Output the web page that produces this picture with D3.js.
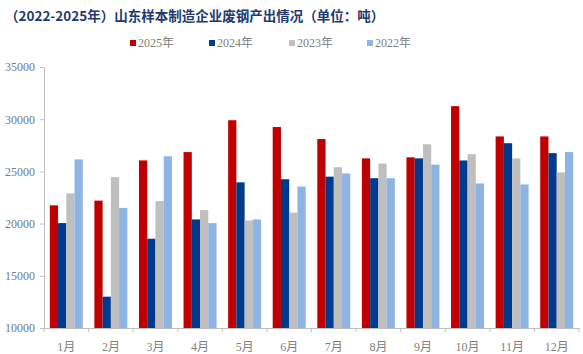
<!DOCTYPE html>
<html>
<head>
<meta charset="utf-8">
<script src="https://cdn.jsdelivr.net/npm/d3@7/dist/d3.min.js"></script>
<style>
  body { margin: 0; background: #fff; }
  svg { display: block; }
</style>
</head>
<body>
<script>
const months = ['1月', '2月', '3月', '4月', '5月', '6月', '7月', '8月', '9月', '10月', '11月', '12月'];
const seriesNames = ['2025年', '2024年', '2023年', '2022年'];
const colors = ['#C00000', '#003A8C', '#BFBFBF', '#8EB4E3'];
const y2025 = [21750, 22200, 26050, 26850, 29900, 29250, 28100, 26250, 26350, 31250, 28350, 28350];
const y2024 = [20050, 13000, 18550, 20400, 23950, 24250, 24500, 24350, 26250, 26050, 27700, 26750];
const y2023 = [22900, 24450, 22150, 21300, 20300, 21050, 25400, 25750, 27600, 26650, 26250, 24900];
const y2022 = [26150, 21500, 26450, 20050, 20400, 23550, 24800, 24350, 25650, 23850, 23750, 26850];
const yTicks = [10000, 15000, 20000, 25000, 30000, 35000];

const series = [y2025, y2024, y2023, y2022];
const W = 583, H = 354;
const margin = {left: 44, right: 4, top: 67, bottom: 26};

const svg = d3.select('body').append('svg')
  .attr('width', W)
  .attr('height', H);

const x = d3.scaleBand()
  .domain(months)
  .range([margin.left, W - margin.right])
  .paddingInner(0.26)
  .paddingOuter(0.13);

const x1 = d3.scaleBand()
  .domain(d3.range(series.length))
  .range([0, x.bandwidth()]);

const y = d3.scaleLinear()
  .domain([10000, 35000])
  .range([H - margin.bottom, margin.top]);

// title
svg.append('text')
  .attr('x', 5)
  .attr('y', 21)
  .attr('font-family', '"Noto Sans CJK SC", sans-serif')
  .attr('font-weight', 'bold')
  .attr('font-size', 13.5)
  .attr('fill', '#1F3A70')
  .text('（2022-2025年）山东样本制造企业废钢产出情况（单位：吨）');

// legend
const legendX = [130, 209, 289, 367];
const legend = svg.append('g')
  .selectAll('g')
  .data(seriesNames)
  .join('g')
  .attr('transform', (d, i) => `translate(${legendX[i]},47)`);

legend.append('rect')
  .attr('x', 0)
  .attr('y', -7)
  .attr('width', 6)
  .attr('height', 6)
  .attr('fill', (d, i) => colors[i]);

legend.append('text')
  .attr('x', 8)
  .attr('y', 0)
  .attr('font-family', '"Liberation Serif", "Noto Sans CJK SC", serif')
  .attr('font-size', 12)
  .attr('fill', '#808080')
  .text(d => d);

// bars
const groups = svg.append('g')
  .selectAll('g')
  .data(months)
  .join('g')
  .attr('transform', d => `translate(${x(d)},0)`);

groups.selectAll('rect')
  .data((m, mi) => series.map((s, si) => ({si, v: s[mi]})))
  .join('rect')
  .attr('x', d => x1(d.si))
  .attr('y', d => y(d.v))
  .attr('width', x1.bandwidth())
  .attr('height', d => y(10000) - y(d.v))
  .attr('fill', d => colors[d.si]);

// y axis
const yAxis = svg.append('g')
  .attr('transform', `translate(${margin.left},0)`)
  .call(d3.axisLeft(y).tickValues(yTicks).tickSize(4).tickSizeOuter(0).tickPadding(5).tickFormat(d3.format('d')));

yAxis.select('.domain').attr('stroke', '#BFBFBF');
yAxis.selectAll('.tick line').attr('stroke', '#BFBFBF');
yAxis.selectAll('.tick text')
  .attr('font-family', '"Liberation Serif", serif')
  .attr('font-size', 12)
  .attr('fill', '#6B7B8E');

// x axis
const xAxis = svg.append('g')
  .attr('transform', `translate(0,${H - margin.bottom})`)
  .call(d3.axisBottom(x).tickSize(0).tickPadding(14));

xAxis.select('.domain').attr('stroke', '#BFBFBF');
xAxis.selectAll('.tick text')
  .attr('font-family', '"Liberation Serif", "Noto Sans CJK SC", serif')
  .attr('font-size', 12)
  .attr('fill', '#808080');

// category separators
const step = x.step();
xAxis.selectAll('line.sep')
  .data(d3.range(months.length + 1))
  .join('line')
  .attr('class', 'sep')
  .attr('x1', i => x(months[0]) - x.paddingOuter() * step + i * step)
  .attr('x2', i => x(months[0]) - x.paddingOuter() * step + i * step)
  .attr('y1', 0)
  .attr('y2', 4)
  .attr('stroke', '#BFBFBF');
</script>
</body>
</html>
